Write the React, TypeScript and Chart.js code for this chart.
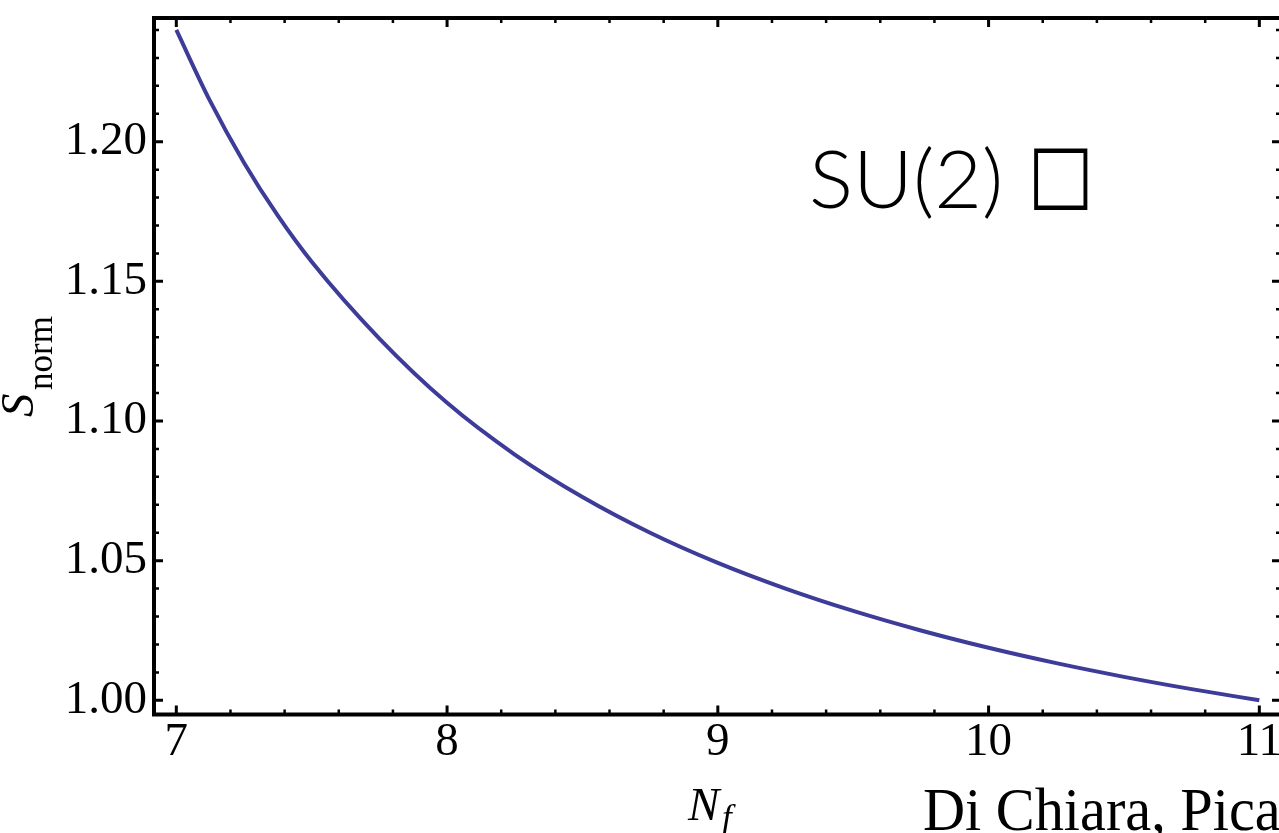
import React, { useEffect, useRef } from "react";
import { Chart, registerables } from "chart.js";

Chart.register(...registerables);

// ---- data ----
const nfValues = [7.0, 7.125, 7.25, 7.375, 7.5, 7.75, 8.0, 8.25, 8.5, 8.75, 9.0, 9.25, 9.5, 9.75, 10.0, 10.25, 10.5, 10.75, 11.0];
const sNormValues = [1.240, 1.2145, 1.1925, 1.1735, 1.157, 1.1295, 1.1065, 1.088, 1.0728, 1.060, 1.0492, 1.040, 1.032, 1.025, 1.0188, 1.0133, 1.0084, 1.004, 1.000];

const xMajorTicks = [7, 8, 9, 10, 11];
const xTickLabels = ["7", "8", "9", "10", "11"];
const yMajorTicks = [1.0, 1.05, 1.1, 1.15, 1.2];
const yTickLabels = ["1.00", "1.05", "1.10", "1.15", "1.20"];
const xMinorStep = 0.2;
const yMinorStep = 0.01;
const yMinorTop = 1.24;

const X_MIN = 6.9176;
const X_MAX = 11.08;
const Y_MIN = 0.99492;
const Y_MAX = 1.24429;

const lineColor = "#3d3d99";
const SERIF = '"Liberation Serif", "Times New Roman", serif';

function buildTicks(start: number, end: number, step: number) {
  const out: number[] = [];
  const n = Math.round((end - start) / step);
  for (let i = 0; i <= n; i++) out.push(Math.round((start + i * step) * 1000) / 1000);
  return out;
}

function labelFor(value: number, majors: number[], labels: string[]) {
  const idx = majors.findIndex((m) => Math.abs(m - value) < 1e-6);
  return idx >= 0 ? labels[idx] : "";
}

const framePlugin = {
  id: "mmaFrame",
  afterDraw(chart: any) {
    const ctx = chart.ctx as CanvasRenderingContext2D;
    const { left, right, top, bottom } = chart.chartArea;
    const xs = chart.scales.x;
    const ys = chart.scales.y;
    ctx.save();
    ctx.strokeStyle = "#000";
    // ticks
    xs.ticks.forEach((t: any) => {
      const major = labelFor(t.value, xMajorTicks, xTickLabels) !== "";
      const px = xs.getPixelForValue(t.value);
      const len = major ? 9 : 5;
      ctx.lineWidth = major ? 3 : 2.5;
      ctx.beginPath();
      ctx.moveTo(px, bottom);
      ctx.lineTo(px, bottom - len);
      ctx.moveTo(px, top);
      ctx.lineTo(px, top + len);
      ctx.stroke();
    });
    ys.ticks.forEach((t: any) => {
      const major = labelFor(t.value, yMajorTicks, yTickLabels) !== "";
      const py = ys.getPixelForValue(t.value);
      const len = major ? 9 : 5;
      ctx.lineWidth = major ? 3 : 2.5;
      ctx.beginPath();
      ctx.moveTo(left, py);
      ctx.lineTo(left + len, py);
      ctx.moveTo(right, py);
      ctx.lineTo(right - len, py);
      ctx.stroke();
    });
    // frame
    ctx.lineWidth = 4;
    ctx.strokeRect(left, top, right - left, bottom - top);

    ctx.fillStyle = "#000";
    ctx.textBaseline = "alphabetic";
    ctx.textAlign = "left";

    // x axis label N_f
    ctx.font = `italic 47px ${SERIF}`;
    ctx.fillText("N", 688, 820);
    ctx.font = `italic 35px ${SERIF}`;
    ctx.fillText("f", 722, 829);

    // y axis label S_norm (rotated)
    ctx.save();
    ctx.translate(33, 417);
    ctx.rotate(-Math.PI / 2);
    ctx.font = `italic 47px ${SERIF}`;
    ctx.fillText("S", 0, 0);
    ctx.font = `35px ${SERIF}`;
    ctx.fillText("norm", 27, 19);
    ctx.restore();

    // credit text (cut off at the right edge)
    ctx.save();
    ctx.translate(923, 830);
    ctx.scale(0.94, 1);
    ctx.font = `62px ${SERIF}`;
    ctx.fillText("Di Chiara, Pica", 0, 0);
    ctx.restore();

    // SU(2) annotation
    ctx.save();
    ctx.translate(809, 208);
    ctx.scale(1.03, 1);
    ctx.font = '300 80px Lato, "Open Sans", sans-serif';
    ctx.fillText("SU(2)", 0, 0);
    ctx.restore();
    // box glyph fitted to the reference box
    ctx.save();
    ctx.font = '80px "DejaVu Sans"';
    const m = ctx.measureText("\u25A1");
    const gw = m.actualBoundingBoxLeft + m.actualBoundingBoxRight;
    const gh = m.actualBoundingBoxAscent + m.actualBoundingBoxDescent;
    const sx = 54 / (gw || 1);
    const sy = 62 / (gh || 1);
    ctx.translate(1034, 148);
    ctx.scale(sx, sy);
    ctx.fillText("\u25A1", m.actualBoundingBoxLeft, m.actualBoundingBoxAscent);
    ctx.restore();

    ctx.restore();
  },
};

export default function App() {
  const canvasRef = useRef<HTMLCanvasElement | null>(null);

  useEffect(() => {
    const canvas = canvasRef.current;
    if (!canvas) return;
    const points = nfValues.map((x, i) => ({ x, y: sNormValues[i] }));
    const chart = new Chart(canvas, {
      type: "line",
      data: {
        datasets: [
          {
            data: points,
            borderColor: lineColor,
            borderWidth: 4,
            pointRadius: 0,
            fill: false,
            cubicInterpolationMode: "monotone",
          },
        ],
      },
      options: {
        responsive: false,
        animation: false,
        devicePixelRatio: 1,
        layout: { padding: { top: 18, right: 2, left: 0, bottom: 0 } },
        plugins: { legend: { display: false }, tooltip: { enabled: false } },
        scales: {
          x: {
            type: "linear",
            min: X_MIN,
            max: X_MAX,
            afterBuildTicks: (scale: any) => {
              scale.ticks = buildTicks(xMajorTicks[0], xMajorTicks[xMajorTicks.length - 1], xMinorStep).map((v) => ({ value: v }));
            },
            afterFit: (scale: any) => {
              scale.height = 118.5;
              scale.paddingLeft = 0;
              scale.paddingRight = 0;
              scale.paddingTop = 0;
              scale.paddingBottom = 0;
            },
            grid: { display: false, drawTicks: false, tickLength: 0 },
            border: { display: false },
            ticks: {
              autoSkip: false,
              maxRotation: 0,
              padding: 0,
              color: "#000",
              font: { family: SERIF, size: 47 },
              callback: (v: any) => labelFor(Number(v), xMajorTicks, xTickLabels),
            },
          },
          y: {
            type: "linear",
            min: Y_MIN,
            max: Y_MAX,
            afterBuildTicks: (scale: any) => {
              scale.ticks = buildTicks(yMajorTicks[0], yMinorTop, yMinorStep).map((v) => ({ value: v }));
            },
            afterFit: (scale: any) => {
              scale.width = 154;
              scale.paddingTop = 0;
              scale.paddingBottom = 0;
              scale.paddingLeft = 0;
              scale.paddingRight = 0;
            },
            grid: { display: false, drawTicks: false, tickLength: 0 },
            border: { display: false },
            ticks: {
              autoSkip: false,
              padding: 7,
              color: "#000",
              font: { family: SERIF, size: 47 },
              callback: (v: any) => labelFor(Number(v), yMajorTicks, yTickLabels),
            },
          },
        },
      },
      plugins: [framePlugin],
    } as any);
    return () => chart.destroy();
  }, []);

  return (
    <div style={{ position: "fixed", left: 0, top: 0, width: 1279, height: 833, overflow: "hidden", background: "#fff" }}>
      <canvas ref={canvasRef} width={1283} height={833} style={{ display: "block", width: 1283, height: 833 }} />
    </div>
  );
}
